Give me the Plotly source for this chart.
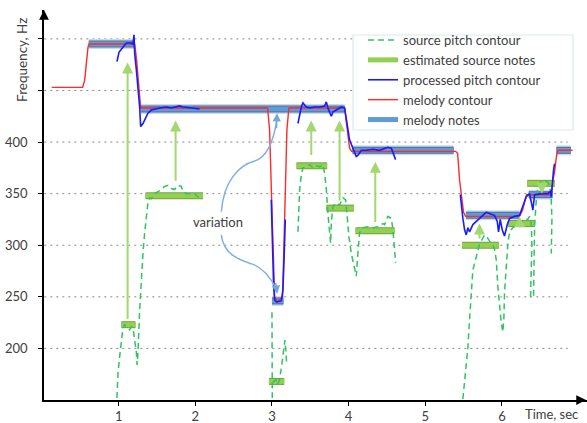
import plotly.graph_objects as go

# ---------------- data ----------------
# melody notes (blue bars): start, end (sec), frequency (Hz)
melody_start = [0.61, 1.29, 3.00, 4.05, 5.53, 6.35, 6.71]
melody_end = [1.20, 3.95, 3.15, 5.37, 6.23, 6.66, 6.90]
melody_freq = [495, 432, 246, 392, 329, 349, 392]

# estimated source notes (green bars)
src_start = [1.035, 1.35, 2.96, 3.32, 3.71, 4.09, 5.48, 6.08, 6.33]
src_end = [1.22, 2.10, 3.16, 3.72, 4.07, 4.60, 5.96, 6.43, 6.69]
src_freq = [223, 348, 168, 377, 336, 314, 300, 321, 360]

# melody contour (red)
mel_t = [0.126, 0.530, 0.557, 0.579, 0.600, 0.615, 1.209, 1.235, 1.261, 1.287, 2.943, 2.969,
         2.996, 3.035, 3.074, 3.139, 3.165, 3.195, 3.221, 3.948, 3.974, 4.013, 4.039, 5.396,
         5.422, 5.448, 5.474, 5.500, 5.526, 6.230, 6.269, 6.322, 6.348, 6.644, 6.665, 6.687,
         6.713, 6.730, 6.922]
mel_f = [453, 453, 460, 481, 492, 495, 495, 479, 455, 433, 433, 412,
         344, 250, 245, 250, 325, 412, 433, 433, 417, 394, 391, 391,
         389, 363, 347, 332, 328, 328, 334, 349, 349, 349, 363, 371,
         387, 392, 392]

# processed pitch contour (blue), segments separated by None
proc_t = [0.978, 1.004, 1.056, 1.100, 1.166, 1.187, 1.200, 1.209, 1.231, 1.252, 1.274, 1.287,
          1.317, 1.382, 1.426, 1.535, 1.622, 1.687, 1.796, 1.839, 1.926, 2.056, None,
          2.991, 3.004, 3.022, 3.035, 3.057, 3.122, 3.143, 3.156, 3.174, None,
          3.339, 3.361, 3.383, 3.404, 3.448, 3.491, 3.556, 3.622, 3.687, 3.709, 3.730, 3.774,
          3.795, 3.860, 3.905, 3.948, 3.978, 4.013, 4.056, 4.100, 4.121, 4.166, 4.231, 4.317,
          4.404, 4.512, 4.557, 4.578, 4.613, None,
          5.457, 5.478, 5.491, 5.513, 5.535, 5.556, 5.578, 5.621, 5.666, 5.731, 5.796, 5.861,
          5.904, 5.939, 5.956, 5.978, 6.004, 6.034, 6.070, 6.100, 6.165, 6.230, 6.273, 6.317,
          6.361, 6.383, 6.404, 6.426, 6.513, 6.599, 6.631, 6.644, 6.657, 6.674, 6.687]
proc_f = [478, 487, 492, 496, 496, 495, 504, 486, 470, 454, 434, 415,
          418, 428, 431, 433, 434, 433, 435, 434, 433, 432, None,
          344, 299, 260, 247, 245, 246, 257, 283, 325, None,
          418, 428, 434, 438, 434, 433, 434, 434, 435, 439, 433, 425,
          429, 432, 434, 433, 418, 402, 394, 386, 387, 392, 392, 393,
          392, 395, 394, 389, 383, None,
          349, 333, 326, 315, 310, 317, 313, 320, 323, 328, 332, 330,
          329, 323, 313, 325, 315, 309, 320, 326, 328, 329, 337, 347,
          350, 342, 334, 349, 350, 350, 352, 347, 363, 373, 379]

# source pitch contour (green dashed), segments separated by None
srcp_t = [0.978, 0.991, 1.013, 1.035, 1.056, 1.078, 1.121, 1.143, 1.166, 1.187, 1.209, 1.231,
          1.241, 1.252, 1.274, 1.296, 1.317, 1.339, 1.361, 1.382, 1.404, 1.426, 1.470, 1.535,
          1.600, 1.643, 1.687, 1.730, 1.773, 1.818, 1.839, 1.883, 1.948, 1.991, 2.034, 2.079, None,
          3.000, 3.004, None,
          3.015, 3.048, 3.074, 3.100, 3.126, 3.152, 3.169, 3.182, 3.191, None,
          3.339, 3.348, 3.361, 3.383, 3.404, 3.448, 3.491, 3.534, 3.579, 3.622, 3.665, 3.687,
          3.709, 3.730, 3.752, 3.765, 3.774, 3.795, 3.830, 3.883, 3.926, 3.961, 3.978, 4.004,
          4.035, 4.078, 4.100, 4.121, 4.143, 4.186, 4.252, 4.317, 4.382, 4.447, 4.469, 4.512,
          4.557, 4.578, 4.600, 4.613, None,
          5.491, 5.535, 5.556, 5.578, 5.600, 5.621, 5.666, 5.686, 5.708, 5.774, 5.796, 5.839,
          5.882, 5.904, 5.926, 5.947, 5.969, 5.991, 6.012, 6.025, 6.034, 6.057, 6.078, 6.100,
          6.143, 6.208, 6.252, 6.296, 6.339, 6.361, 6.383, 6.391, 6.383, 6.374, 6.413, 6.417,
          6.426, 6.448, 6.469, 6.513, 6.556, 6.599, 6.622, 6.644, 6.652, 6.644]
srcp_f = [152, 176, 192, 208, 220, 223, 220, 218, 221, 220, 208, 196,
          184, 196, 237, 270, 292, 312, 328, 341, 346, 345, 350, 353,
          357, 358, 355, 354, 358, 357, 352, 350, 350, 350, 347, 347, None,
          235, 152, None,
          167, 170, 165, 170, 183, 202, 208, 197, 186, None,
          313, 331, 354, 368, 375, 376, 378, 375, 377, 376, 378, 370,
          354, 331, 308, 302, 321, 337, 341, 339, 346, 344, 331, 308,
          292, 279, 270, 292, 312, 317, 318, 317, 318, 321, 320, 328,
          326, 315, 292, 283, None,
          151, 182, 201, 228, 257, 276, 289, 296, 301, 310, 309, 304,
          300, 296, 286, 260, 241, 225, 216, 228, 254, 286, 302, 313,
          317, 320, 322, 326, 325, 328, 321, 302, 276, 250, 250, 286,
          318, 344, 357, 362, 363, 361, 358, 344, 325, 292]

# green arrows: source note -> melody note
arrow_t = [1.117, 1.743, 3.513, 3.882, 4.348, 5.708, 6.230, 6.521]
arrow_from = [227, 361, 386, 342, 321, 305, 323, 358]
arrow_to = [477, 421, 421, 421, 381, 321, 328, 350]

# ticks
y_ticks = [200, 250, 300, 350, 400, 450, 500]
y_ticktext = ["200", "250", "300", "350", "400", "", ""]
x_ticks = [1, 2, 3, 4, 5, 6]

FONT = "Lato, 'Open Sans', sans-serif"
TXT = "#404040"

def segs(starts, ends, vals):
    xs, ys = [], []
    for s, e, v in zip(starts, ends, vals):
        xs += [s, e, None]
        ys += [v, v, None]
    return xs, ys

fig = go.Figure()

mx, my = segs(melody_start, melody_end, melody_freq)
sx, sy = segs(src_start, src_end, src_freq)

# melody notes: glow, border, fill
fig.add_trace(go.Scatter(x=mx, y=my, mode="lines", line=dict(color="#c9dcef", width=10),
                         showlegend=False, hoverinfo="skip"))
fig.add_trace(go.Scatter(x=mx, y=my, mode="lines", line=dict(color="#4a6f96", width=7),
                         showlegend=False, hoverinfo="skip"))
fig.add_trace(go.Scatter(x=mx, y=my, mode="lines", line=dict(color="#5f9bd6", width=5),
                         name="melody notes", legendrank=5))
# source notes: border, fill
fig.add_trace(go.Scatter(x=sx, y=sy, mode="lines", line=dict(color="#77a040", width=7),
                         showlegend=False, hoverinfo="skip"))
fig.add_trace(go.Scatter(x=sx, y=sy, mode="lines", line=dict(color="#92d050", width=5),
                         name="estimated source notes", legendrank=2))
# source pitch contour
fig.add_trace(go.Scatter(x=srcp_t, y=srcp_f, mode="lines",
                         line=dict(color="#2fc461", width=1.5, dash="6px,4px"),
                         name="source pitch contour", legendrank=1))
# melody contour
fig.add_trace(go.Scatter(x=mel_t, y=mel_f, mode="lines",
                         line=dict(color="#ff2a2a", width=1.4),
                         name="melody contour", legendrank=4))
# processed pitch contour
fig.add_trace(go.Scatter(x=proc_t, y=proc_f, mode="lines",
                         line=dict(color="#1a1aff", width=1.6),
                         name="processed pitch contour", legendrank=3))

shapes = []
# dotted gridlines
for yv in y_ticks:
    shapes.append(dict(type="line", xref="x", yref="y", x0=0.03, x1=6.86, y0=yv, y1=yv,
                       line=dict(color="#8a8a8a", width=1, dash="2px,4px"), layer="below"))
# legend box
shapes.append(dict(type="rect", xref="paper", yref="paper", x0=0.5691, x1=0.9742, y0=0.6923, y1=0.9359,
                   fillcolor="white", line=dict(color="#dde7f2", width=1.2), layer="above"))
# "variation" curves
shapes.append(dict(type="path", xref="x", yref="y",
                   path="M 2.339,332.5 C 2.370,362.8 2.578,377.7 2.774,381.6 C 2.943,385.5 3.022,401.9 3.060,420",
                   line=dict(color="#7fb0e0", width=1.5)))
shapes.append(dict(type="path", xref="x", yref="y",
                   path="M 2.339,310 C 2.370,290.6 2.578,285.8 2.735,281.9 C 2.904,278 2.996,266.4 3.055,258",
                   line=dict(color="#7fb0e0", width=1.5)))

annotations = []
for t, f0, f1 in zip(arrow_t, arrow_from, arrow_to):
    annotations.append(dict(x=t, y=f1, ax=t, ay=f0, xref="x", yref="y", axref="x", ayref="y",
                            text="", showarrow=True, arrowhead=2, arrowsize=1.1, arrowwidth=2,
                            arrowcolor="#a3d86e"))
annotations.append(dict(x=3.066, y=428, ax=3.058, ay=412, xref="x", yref="y", axref="x", ayref="y",
                        text="", showarrow=True, arrowhead=2, arrowsize=1.1, arrowwidth=1.5,
                        arrowcolor="#6fa8dc"))
annotations.append(dict(x=3.068, y=253, ax=3.045, ay=265, xref="x", yref="y", axref="x", ayref="y",
                        text="", showarrow=True, arrowhead=2, arrowsize=1.1, arrowwidth=1.5,
                        arrowcolor="#6fa8dc"))
annotations.append(dict(x=2.30, y=323, xref="x", yref="y", text="variation", showarrow=False,
                        xanchor="center", yanchor="middle",
                        font=dict(family=FONT, size=13, color=TXT)))
# axis titles
annotations.append(dict(x=-0.0405, y=0.872, xref="paper", yref="paper", text="Frequency, Hz",
                        textangle=-90, showarrow=False, xanchor="center", yanchor="middle",
                        font=dict(family=FONT, size=13.5, color=TXT)))
annotations.append(dict(x=0.934, y=-0.035, xref="paper", yref="paper", text="Time, sec",
                        showarrow=False, xanchor="center", yanchor="middle",
                        font=dict(family=FONT, size=13, color=TXT)))
# axis arrowheads
annotations.append(dict(x=1, y=0, ax=-10, ay=0, xref="paper", yref="paper", text="", showarrow=True,
                        arrowhead=2, arrowsize=1.3, arrowwidth=1.5, arrowcolor="black"))
annotations.append(dict(x=0, y=1, ax=0, ay=10, xref="paper", yref="paper", text="", showarrow=True,
                        arrowhead=2, arrowsize=1.3, arrowwidth=1.5, arrowcolor="black"))

fig.update_layout(
    width=587, height=423,
    margin=dict(l=44, r=0, t=10, b=23),
    paper_bgcolor="white", plot_bgcolor="white",
    font=dict(family=FONT, size=13, color=TXT),
    shapes=shapes, annotations=annotations,
    showlegend=True,
    legend=dict(x=0.5875, y=0.9615, xanchor="left", yanchor="top", bgcolor="rgba(0,0,0,0)",
                borderwidth=0, font=dict(family=FONT, size=13, color=TXT),
                tracegroupgap=0, itemwidth=30),
    xaxis=dict(range=[0.026, 7.11], showline=True, linecolor="black", linewidth=1.5,
               ticks="outside", tickvals=x_ticks, ticklen=4, tickcolor="black", tickwidth=1.2,
               showgrid=False, zeroline=False, tickfont=dict(family=FONT, size=13, color=TXT)),
    yaxis=dict(range=[150, 528], showline=True, linecolor="black", linewidth=1.5,
               ticks="outside", tickvals=y_ticks, ticktext=y_ticktext, ticklen=4, tickcolor="black",
               tickwidth=1.2, showgrid=False, zeroline=False, ticklabelstandoff=8,
               tickfont=dict(family=FONT, size=13, color=TXT)),
)

fig.write_html("out.html", config={"displayModeBar": False},
               post_script="document.body.style.margin='0';document.body.style.padding='0';")
